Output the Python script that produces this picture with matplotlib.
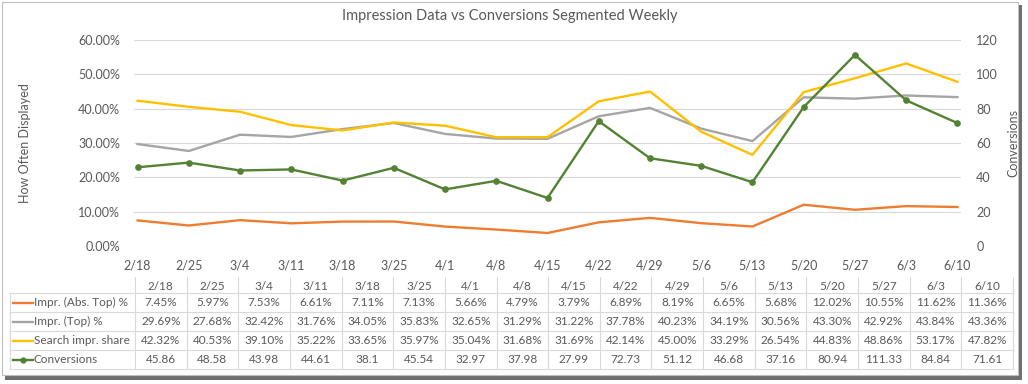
import matplotlib.pyplot as plt
from matplotlib.patches import Rectangle
from matplotlib.lines import Line2D
from matplotlib.ticker import FuncFormatter, MultipleLocator

plt.rcParams['font.family'] = ['Lato', 'DejaVu Sans']

weeks = ['2/18', '2/25', '3/4', '3/11', '3/18', '3/25', '4/1', '4/8', '4/15',
         '4/22', '4/29', '5/6', '5/13', '5/20', '5/27', '6/3', '6/10']
abs_top = [7.45, 5.97, 7.53, 6.61, 7.11, 7.13, 5.66, 4.79, 3.79,
           6.89, 8.19, 6.65, 5.68, 12.02, 10.55, 11.62, 11.36]
top = [29.69, 27.68, 32.42, 31.76, 34.05, 35.83, 32.65, 31.29, 31.22,
       37.78, 40.23, 34.19, 30.56, 43.30, 42.92, 43.84, 43.36]
search_share = [42.32, 40.53, 39.10, 35.22, 33.65, 35.97, 35.04, 31.68, 31.69,
                42.14, 45.00, 33.29, 26.54, 44.83, 48.86, 53.17, 47.82]
conversions = [45.86, 48.58, 43.98, 44.61, 38.1, 45.54, 32.97, 37.98, 27.99,
               72.73, 51.12, 46.68, 37.16, 80.94, 111.33, 84.84, 71.61]

series_names = ['Impr. (Abs. Top) %', 'Impr. (Top) %', 'Search impr. share', 'Conversions']
colors = ['#ED7D31', '#A5A5A5', '#FFC000', '#548235']
txt = '#595959'
grid = '#D9D9D9'

W, H = 1028, 384
fig = plt.figure(figsize=(W / 100, H / 100), dpi=100)

# frame + drop shadow, drawn in pixel coordinates
bg = fig.add_axes([0, 0, 1, 1])
bg.set_xlim(0, W)
bg.set_ylim(H, 0)
bg.axis('off')
bg.add_patch(Rectangle((5, 5), 1017, 375, facecolor='#6F6F6F', edgecolor='none'))
bg.add_patch(Rectangle((2, 2), 1016, 373, facecolor='white', edgecolor='#BFBFBF', lw=0.8))

x = list(range(len(weeks)))
ax = fig.add_axes([134 / W, 1 - 246 / H, 827 / W, 206 / H])
ax.patch.set_alpha(0)
ax.plot(x, abs_top, color=colors[0], lw=1.7)
ax.plot(x, top, color=colors[1], lw=1.7)
ax.plot(x, search_share, color=colors[2], lw=1.7)
ax.set_xlim(-0.07, 16.07)
ax.set_ylim(0, 60)
ax.yaxis.set_major_locator(MultipleLocator(10))
ax.yaxis.set_major_formatter(FuncFormatter(lambda v, p: f'{v:.2f}%'))
ax.set_xticks(x, weeks)
ax.grid(axis='y', color=grid, lw=0.8)
ax.set_axisbelow(True)
for s in ax.spines.values():
    s.set_visible(False)
ax.tick_params(length=0, colors=txt, labelsize=9)
ax.tick_params(axis='y', pad=10)
ax.tick_params(axis='x', pad=10)
ax.set_ylabel('How Often Displayed', color=txt, fontsize=9, labelpad=34)

ax2 = ax.twinx()
ax2.plot(x, conversions, color=colors[3], lw=1.7, marker='o', ms=3.8)
ax2.set_ylim(0, 120)
ax2.yaxis.set_major_locator(MultipleLocator(20))
for s in ax2.spines.values():
    s.set_visible(False)
ax2.tick_params(length=0, colors=txt, labelsize=9, pad=11)
ax2.set_ylabel('Conversions', color=txt, fontsize=9, labelpad=7)

fig.text(510 / W, 1 - 16 / H, 'Impression Data vs Conversions Segmented Weekly',
         ha='center', va='center', color=txt, fontsize=10.5)

# data table
x0, x1, xr = 10, 135, 1013
cw = (xr - x1) / len(weeks)
yt, yh = 277, 293
rh = (369 - yh) / 4
lw = 0.8
fs = 8.5
bg.plot([x0, xr], [yh, yh], color=grid, lw=lw)
for r in range(1, 5):
    bg.plot([x0, xr], [yh + r * rh] * 2, color=grid, lw=lw)
bg.plot([x0, x0], [yh, 369], color=grid, lw=lw)
for c in range(len(weeks) + 1):
    bg.plot([x1 + c * cw] * 2, [yt, 369], color=grid, lw=lw)
for c, w in enumerate(weeks):
    bg.text(x1 + (c + 0.5) * cw, (yt + yh) / 2 + 1, w, ha='center', va='center',
            color=txt, fontsize=fs)

rows = [[f'{v:.2f}%' for v in abs_top],
        [f'{v:.2f}%' for v in top],
        [f'{v:.2f}%' for v in search_share],
        [f'{v:g}' for v in conversions]]
for r, (name, vals) in enumerate(zip(series_names, rows)):
    yc = yh + (r + 0.5) * rh
    bg.add_line(Line2D([13, 33], [yc, yc], color=colors[r], lw=1.7))
    if r == 3:
        bg.plot([23], [yc], marker='o', ms=3.5, color=colors[r])
    bg.text(34, yc, name, ha='left', va='center', color=txt, fontsize=fs)
    for c, v in enumerate(vals):
        bg.text(x1 + (c + 0.5) * cw, yc, v, ha='center', va='center',
                color=txt, fontsize=fs)

plt.savefig('out.png', dpi=100)
